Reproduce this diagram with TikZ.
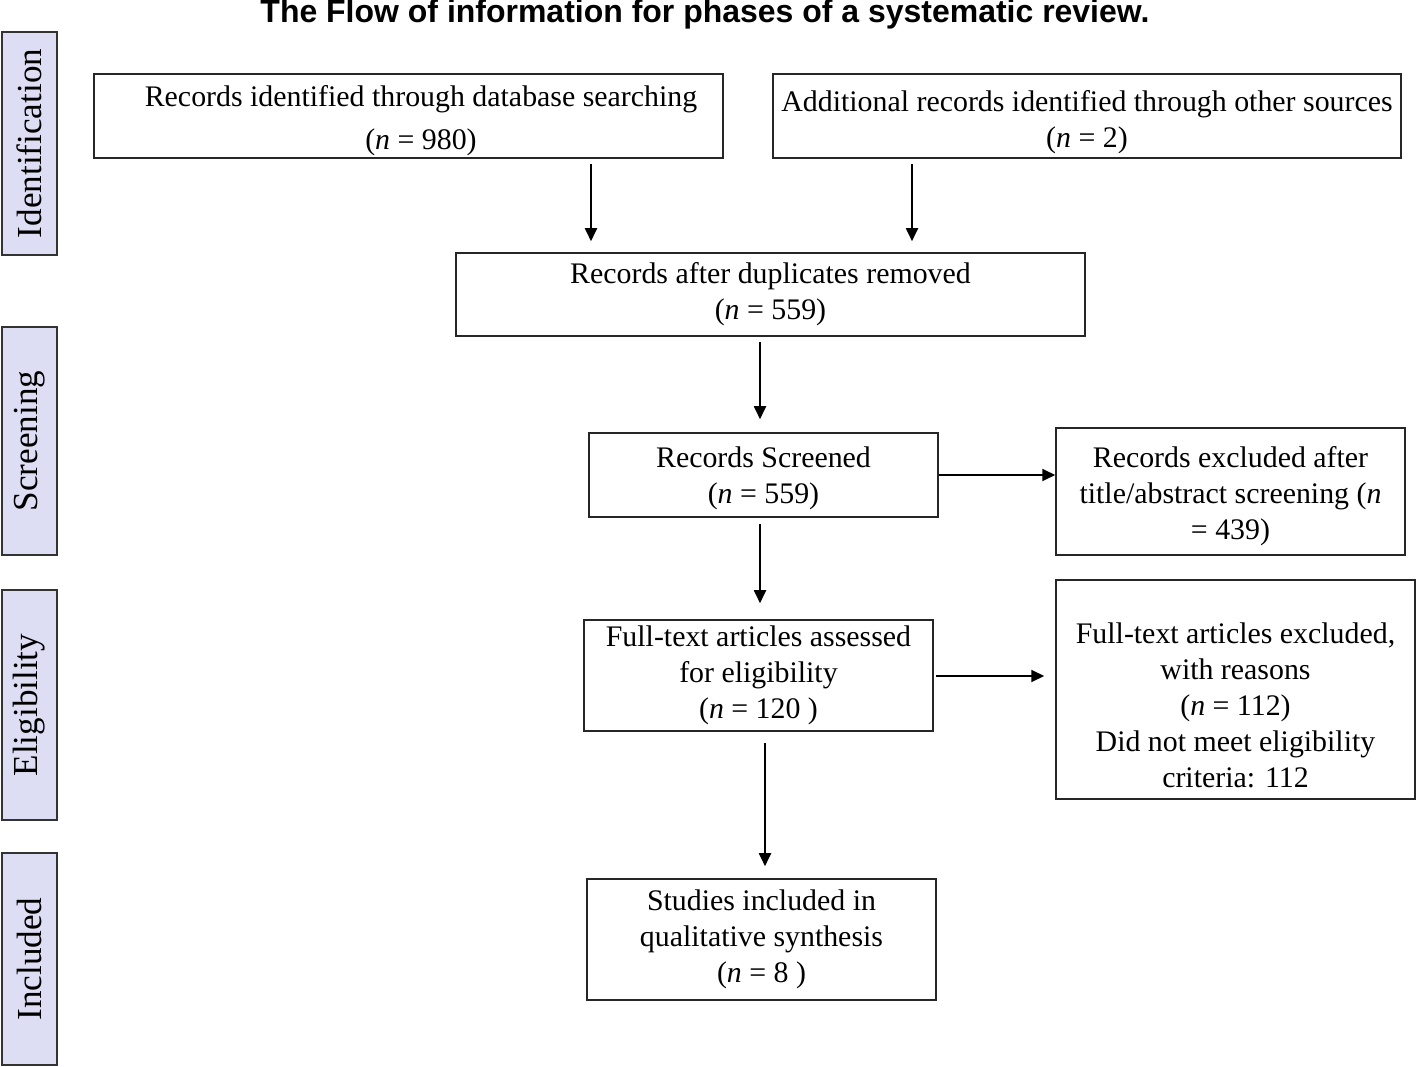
\documentclass[tikz,border=0pt]{standalone}
\usepackage{fontspec}
\setmainfont{Liberation Serif}
\newfontfamily\titlefont{Liberation Sans}
\usepackage{tikz}
\usetikzlibrary{arrows.meta, positioning}
\definecolor{phasefill}{RGB}{221,221,243}
\tikzstyle{arrow} = [line width=1.05pt, -{Triangle[length=0.26cm, width=0.24cm]}]

\begin{document}
\begin{tikzpicture}
	[x=0.02cm, y=-0.02cm,
	box/.style={draw=black!85, line width=0.9pt, align=center, inner sep=0pt, font=\fontsize{17}{20.5}\selectfont},
	phase/.style={draw=black!80, line width=1pt, fill=phasefill, rotate=90, inner sep=0pt, minimum height=1.1cm, font=\fontsize{20}{24}\selectfont}]
	\useasboundingbox (0,0) rectangle (1417,1067);

	\node[font=\titlefont\bfseries\fontsize{18.2}{22}\selectfont, anchor=base] (title) at (705,23) {The Flow of information for phases of a systematic review.};

	% phases on the left
	\node[phase, minimum width=4.46cm] (ident) at (29.5,143.5) {Identification};
	\node[phase, minimum width=4.56cm] (screen) at (29.5,441) {Screening};
	\node[phase, minimum width=4.6cm] (elig) at (29.5,705) {Eligibility};
	\node[phase, minimum width=4.24cm] (incl) at (29.5,959) {Included};

	% boxes
	\node[box, minimum width=12.58cm, minimum height=1.68cm] (db) at (408.5,116)
		{\rule{0pt}{0.6cm}\hspace{0.5cm}Records identified through database searching\\[0.14cm]\hspace{0.5cm}(\textit{n} = 980)};
	\node[box, minimum width=12.56cm, minimum height=1.68cm] (other) at (1087,116)
		{\rule{0pt}{0.65cm}Additional records identified through other sources\\(\textit{n} = 2)};
	\node[box, minimum width=12.58cm, minimum height=1.66cm] (dup) at (770.5,294.5)
		{Records after duplicates removed\\(\textit{n} = 559)};
	\node[box, minimum width=6.98cm, minimum height=1.68cm] (scr) at (763.5,475)
		{\rule{0pt}{0.55cm}Records Screened\\(\textit{n} = 559)};
	\node[box, minimum width=6.98cm, minimum height=2.54cm] (exc1) at (1230.5,491.5)
		{\rule{0pt}{0.6cm}Records excluded after\\title/abstract screening (\textit{n}\\= 439)};
	\node[box, minimum width=6.98cm, minimum height=2.22cm] (full) at (758.5,675.5)
		{Full-text articles assessed\\for eligibility\\(\textit{n} = 120 )};
	\node[box, minimum width=7.18cm, minimum height=4.38cm] (exc2) at (1235.5,689.5)
		{\rule{0pt}{1.05cm}Full-text articles excluded,\\with reasons\\(\textit{n} = 112)\\Did not meet eligibility\\criteria: 112};
	\node[box, minimum width=6.98cm, minimum height=2.42cm] (inc) at (761.5,939.5)
		{Studies included in\\qualitative synthesis\\(\textit{n} = 8 )};

	% arrows
	\coordinate (c1) at (591,0);
	\coordinate (c2) at (912,0);
	\coordinate (c3) at (760,0);
	\coordinate (c4) at (765,0);
	\coordinate (r1) at (0,676);
	\draw[arrow, shorten <=0.1cm, shorten >=0.22cm] (db.south -| c1) -- (dup.north -| c1);
	\draw[arrow, shorten <=0.1cm, shorten >=0.22cm] (other.south -| c2) -- (dup.north -| c2);
	\draw[arrow, shorten <=0.1cm, shorten >=0.26cm] (dup.south -| c3) -- (scr.north -| c3);
	\draw[arrow] (scr.east) -- (exc1.west |- scr.east);
	\draw[arrow, shorten <=0.12cm, shorten >=0.32cm] (scr.south -| c3) -- (full.north -| c3);
	\draw[arrow, shorten <=0.04cm, shorten >=0.22cm] (full.east |- r1) -- (exc2.west |- r1);
	\draw[arrow, shorten <=0.22cm, shorten >=0.24cm] (full.south -| c4) -- (inc.north -| c4);
\end{tikzpicture}
\end{document}
